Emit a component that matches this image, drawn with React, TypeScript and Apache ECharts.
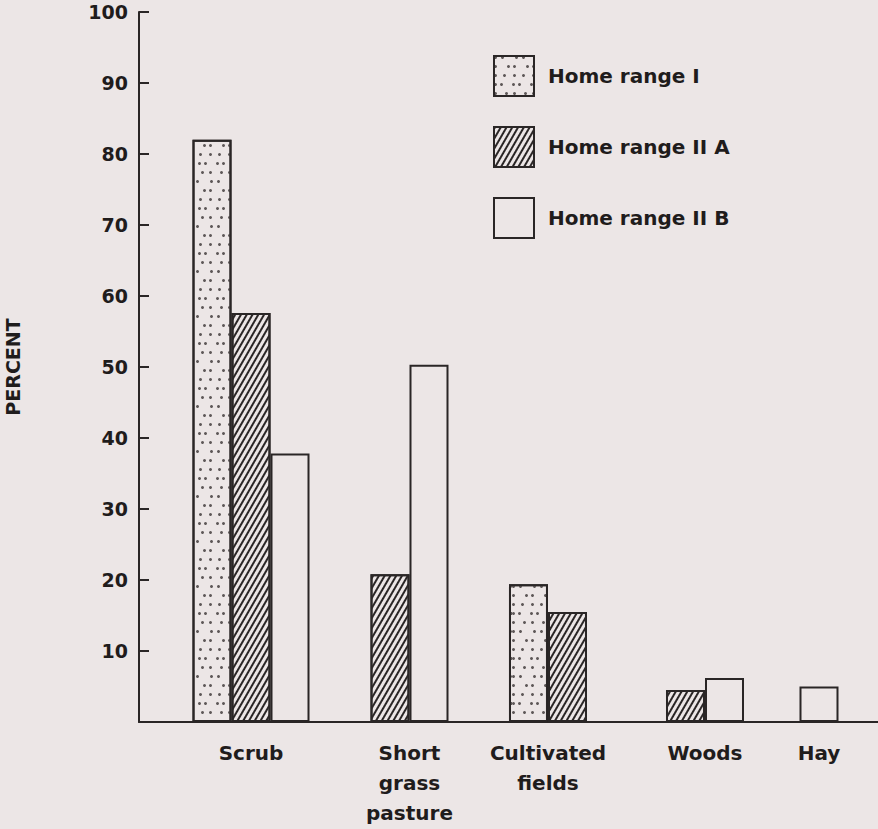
import React, { useEffect, useRef } from 'react';
import * as echarts from 'echarts';

// ---- data ----
const categories = ['Scrub', 'Short\ngrass\npasture', 'Cultivated\nfields', 'Woods', 'Hay'];
const seriesNames = ['Home range I', 'Home range II A', 'Home range II B'];
const homeRangeI: (number | null)[] = [82.0, null, 19.4, null, null];
const homeRangeIIA: (number | null)[] = [57.6, 20.8, 15.5, 4.5, null];
const homeRangeIIB: (number | null)[] = [37.8, 50.3, null, 6.2, 5.0];
const yMin = 0;
const yMax = 100;
const yInterval = 10;

// ---- layout (axis units: one unit = one bar width) ----
const categoryCenters = [2.872, 6.936, 10.487, 14.513, 17.436];
const xExtent = 18.949;

const BG = '#ece6e6';
const INK = '#1f1c1c';
const LINE = '#2a2626';
const FONT = '"DejaVu Sans", Verdana, sans-serif';

const allSeries = [homeRangeI, homeRangeIIA, homeRangeIIB];

function buildSeriesData(sIdx: number): [number, number][] {
  const out: [number, number][] = [];
  categories.forEach((_, c) => {
    const present = allSeries.map((s, i) => (s[c] != null ? i : -1)).filter((i) => i >= 0);
    const k = present.indexOf(sIdx);
    if (k < 0) return;
    const x = categoryCenters[c] + (k - (present.length - 1) / 2);
    out.push([x, allSeries[sIdx][c] as number]);
  });
  return out;
}

const decals: any[] = [
  {
    symbol: 'circle',
    symbolSize: 1,
    color: '#5e5858',
    dashArrayX: [
      [2.2, 8, 2.2, 5],
      [2.2, 4, 2.2, 11],
      [2.2, 10, 2.2, 3],
      [2.2, 6, 2.2, 7],
      [2.2, 3, 2.2, 9],
    ],
    dashArrayY: [2.2, 5.5],
  },
  {
    symbol: 'rect',
    symbolSize: 1,
    color: LINE,
    dashArrayX: [1, 0],
    dashArrayY: [1.5, 2.3],
    rotation: -Math.PI / 3,
  },
  null,
];

export default function App() {
  const ref = useRef<HTMLDivElement>(null);
  useEffect(() => {
    document.body.style.margin = '0';
    const chart = echarts.init(ref.current as HTMLDivElement, null, { renderer: 'svg' });
    const nearestCat = (v: number) => {
      let best = 0;
      categoryCenters.forEach((c, i) => {
        if (Math.abs(c - v) < Math.abs(categoryCenters[best] - v)) best = i;
      });
      return categories[best];
    };
    const option: any = {
      animation: false,
      backgroundColor: BG,
      grid: {
        left: 139,
        right: 0,
        top: 12,
        bottom: 107,
        containLabel: false,
        outerBoundsMode: 'none',
      },
      legend: {
        orient: 'vertical',
        left: 493,
        top: 55,
        padding: 0,
        itemWidth: 40,
        itemHeight: 40,
        itemGap: 29,
        icon: 'rect',
        selectedMode: false,
        data: seriesNames,
        textStyle: {
          fontSize: 20,
          fontWeight: 'bold',
          fontFamily: FONT,
          color: INK,
          padding: [6, 0, 0, 9],
        },
      },
      xAxis: {
        type: 'value',
        min: 0,
        max: xExtent,
        axisLine: { show: true, onZero: true, lineStyle: { color: LINE, width: 2 } },
        axisTick: { show: false },
        splitLine: { show: false },
        axisLabel: {
          customValues: categoryCenters,
          formatter: (v: number) => nearestCat(v),
          fontSize: 20,
          fontWeight: 'bold',
          fontFamily: FONT,
          color: INK,
          lineHeight: 30,
          margin: 16,
        },
      },
      yAxis: {
        type: 'value',
        min: yMin,
        max: yMax,
        interval: yInterval,
        name: 'PERCENT',
        nameLocation: 'middle',
        nameRotate: 90,
        nameGap: 117,
        nameTextStyle: { fontSize: 19, fontWeight: 'bold', fontFamily: FONT, color: INK },
        axisLine: { show: true, lineStyle: { color: LINE, width: 2 } },
        axisTick: { show: true, inside: true, length: 10, lineStyle: { color: LINE, width: 2 } },
        splitLine: { show: false },
        axisLabel: {
          fontSize: 19,
          fontWeight: 'bold',
          fontFamily: FONT,
          color: INK,
          margin: 11,
          formatter: (v: number) => (v === 0 ? '' : String(v)),
        },
      },
      series: seriesNames.map((name, i) => ({
        type: 'bar',
        name,
        data: buildSeriesData(i),
        barWidth: 39,
        barGap: '-100%',
        itemStyle: {
          color: BG,
          borderColor: LINE,
          borderWidth: 2,
          ...(decals[i] ? { decal: decals[i] } : {}),
        },
        emphasis: { disabled: true },
      })),
    };
    chart.setOption(option);
    return () => chart.dispose();
  }, []);
  return <div ref={ref} style={{ width: 878, height: 829 }} />;
}
